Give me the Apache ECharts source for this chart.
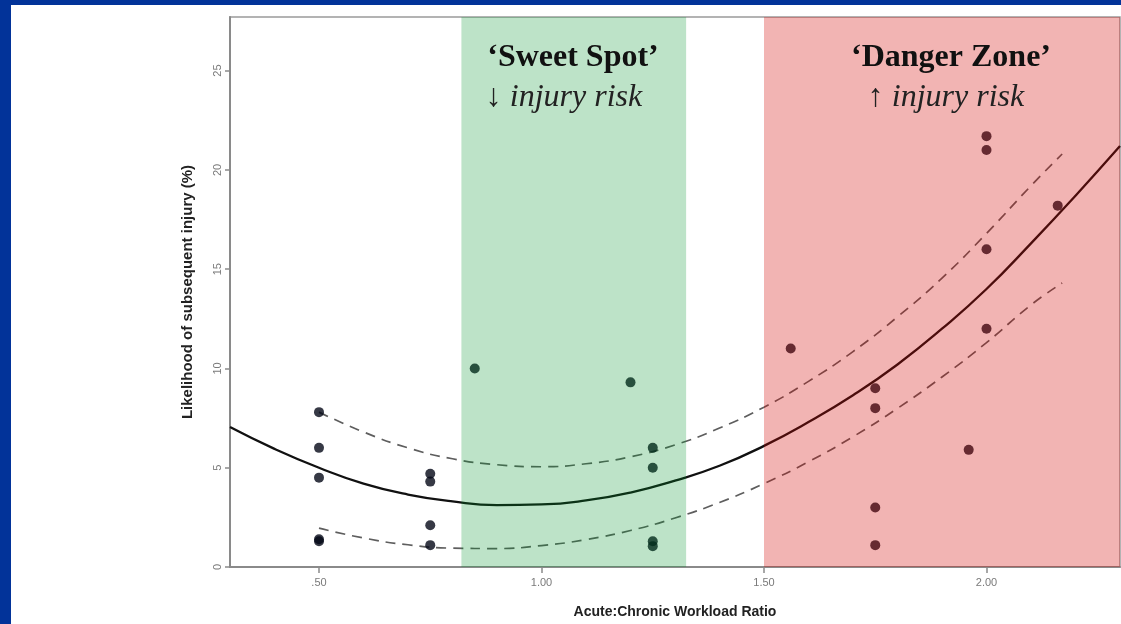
<!DOCTYPE html>
<html>
<head>
<meta charset="utf-8">
<script src="https://cdn.jsdelivr.net/npm/echarts@6/dist/echarts.min.js"></script>
<style>
  html, body { margin: 0; padding: 0; background: #023399; overflow: hidden; }
  #chart { position: absolute; left: 11px; top: 5px; width: 1110px; height: 627px; background: #fff; }
</style>
</head>
<body>
<div id="chart"></div>
<script>
// observed points (x = ACWR, y = likelihood %)
const ptX = [0.5, 0.5, 0.5, 0.5, 0.5, 0.75, 0.75, 0.75, 0.75, 0.85, 1.2, 1.25, 1.25, 1.25, 1.25,
  1.56, 1.75, 1.75, 1.75, 1.75, 1.96, 2.0, 2.0, 2.0, 2.0, 2.16];
const ptY = [7.8, 6.0, 4.5, 1.4, 1.3, 4.7, 4.3, 2.1, 1.1, 10.0, 9.3, 6.0, 5.0, 1.3, 1.05,
  11.0, 9.0, 8.0, 3.0, 1.1, 5.9, 21.7, 21.0, 16.0, 12.0, 18.2];

// fitted curve
const fitX = [0.3, 0.4, 0.5, 0.6, 0.7, 0.8, 0.9, 1.0, 1.1, 1.2, 1.3, 1.4, 1.5, 1.6, 1.7, 1.8, 1.9, 2.0, 2.1, 2.2, 2.3];
const fitY = [7.05, 5.95, 5.0, 4.2, 3.65, 3.3, 3.12, 3.15, 3.35, 3.75, 4.35, 5.1, 6.1, 7.3, 8.65, 10.2, 12.0, 14.0, 16.3, 18.7, 21.2];

// confidence band (dashed)
const bandX = [0.5, 0.6, 0.7, 0.8, 0.9, 1.0, 1.1, 1.2, 1.3, 1.4, 1.5, 1.6, 1.7, 1.8, 1.9, 2.0, 2.1, 2.17];
const upperY = [7.8, 6.8, 6.0, 5.45, 5.15, 5.05, 5.2, 5.55, 6.15, 7.0, 8.05, 9.35, 10.85, 12.6, 14.55, 16.8, 19.2, 20.8];
const lowerY = [1.96, 1.46, 1.12, 0.95, 0.93, 1.08, 1.38, 1.84, 2.47, 3.25, 4.2, 5.3, 6.56, 7.99, 9.57, 11.3, 13.2, 14.3];

// shaded zones
const sweetSpot = [0.82, 1.325];
const dangerZone = [1.5, 2.3];

const xTicks = [0.5, 1.0, 1.5, 2.0];
const yTicks = [0, 5, 10, 15, 20, 25];
const yMax = 27.7;

const zip = (xs, ys) => xs.map((x, i) => [x, ys[i]]);
const serif = '"Liberation Serif", "Times New Roman", serif';

const chart = echarts.init(document.getElementById('chart'));

const option = {
  animation: false,
  grid: { left: 219, top: 12, width: 890, height: 550, show: true, borderColor: '#9a9a9a', borderWidth: 1.5 },
  xAxis: {
    type: 'value', min: 0.3, max: 2.3,
    name: 'Acute:Chronic Workload Ratio', nameLocation: 'middle', nameGap: 38,
    nameTextStyle: { fontFamily: 'Liberation Sans', fontWeight: 'bold', fontSize: 14, color: '#222' },
    axisLine: { lineStyle: { color: '#8a8a8a', width: 2 } },
    axisTick: { customValues: xTicks, length: 6, lineStyle: { color: '#8a8a8a', width: 1.5 } },
    axisLabel: {
      customValues: xTicks, margin: 10, fontSize: 11, fontFamily: 'Liberation Sans', color: '#7a7a7a',
      formatter: v => v === 0.5 ? '.50' : v.toFixed(2)
    },
    splitLine: { show: false }
  },
  yAxis: {
    type: 'value', min: 0, max: yMax,
    name: 'Likelihood of subsequent injury (%)', nameLocation: 'middle', nameGap: 35,
    nameTextStyle: { fontFamily: 'Liberation Sans', fontWeight: 'bold', fontSize: 15, color: '#222' },
    axisLine: { lineStyle: { color: '#8a8a8a', width: 2 } },
    axisTick: { customValues: yTicks, length: 5, lineStyle: { color: '#8a8a8a', width: 1.5 } },
    axisLabel: {
      customValues: yTicks, rotate: 90, margin: 7, fontSize: 11, fontFamily: 'Liberation Sans', color: '#7a7a7a'
    },
    splitLine: { show: false }
  },
  series: [
    {
      type: 'line', data: zip(fitX, fitY), smooth: true, showSymbol: false, z: 2,
      lineStyle: { color: '#111', width: 2.3 }
    },
    {
      type: 'line', data: zip(bandX, upperY), smooth: true, showSymbol: false, z: 2,
      lineStyle: { color: '#5e5e5e', width: 1.7, type: [10, 7] }
    },
    {
      type: 'line', data: zip(bandX, lowerY), smooth: true, showSymbol: false, z: 2,
      lineStyle: { color: '#5e5e5e', width: 1.7, type: [10, 7] }
    },
    {
      type: 'scatter', data: zip(ptX, ptY), symbolSize: 10, z: 3,
      itemStyle: { color: '#040816' }
    },
    {
      // translucent zones laid over the marks
      type: 'custom', z: 10, silent: true,
      data: [[sweetSpot[0], sweetSpot[1], yMax], [dangerZone[0], dangerZone[1], yMax]],
      renderItem: (params, api) => {
        const p0 = api.coord([api.value(0), api.value(2)]);
        const p1 = api.coord([api.value(1), 0]);
        const fills = ['rgba(1,147,43,0.26)', 'rgba(212,8,2,0.30)'];
        return {
          type: 'rect',
          shape: { x: p0[0], y: p0[1], width: p1[0] - p0[0], height: p1[1] - p0[1] },
          style: { fill: fills[params.dataIndex] }
        };
      }
    }
  ],
  graphic: [
    { type: 'text', x: 562, y: 53, z: 100, style: { text: '\u2018Sweet Spot\u2019', font: 'bold 32px ' + serif, fill: '#111', align: 'center', verticalAlign: 'middle' } },
    { type: 'text', x: 553, y: 93, z: 100, style: { text: '\u2193 injury risk', font: 'italic 32px ' + serif, fill: '#222', align: 'center', verticalAlign: 'middle' } },
    { type: 'text', x: 940, y: 53, z: 100, style: { text: '\u2018Danger Zone\u2019', font: 'bold 32px ' + serif, fill: '#111', align: 'center', verticalAlign: 'middle' } },
    { type: 'text', x: 935, y: 93, z: 100, style: { text: '\u2191 injury risk', font: 'italic 32px ' + serif, fill: '#222', align: 'center', verticalAlign: 'middle' } }
  ]
};

chart.setOption(option);
</script>
</body>
</html>
